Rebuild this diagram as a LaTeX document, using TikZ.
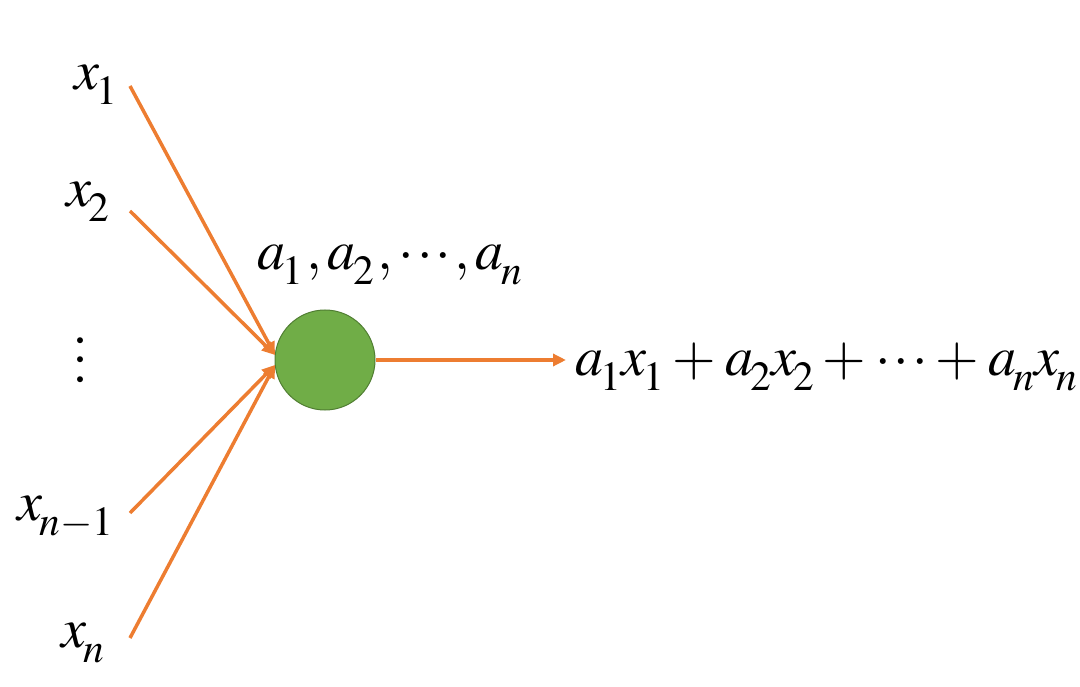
\documentclass[tikz,border=0pt]{standalone}
\usepackage{mathptmx}
\usetikzlibrary{arrows.meta}
\definecolor{edgeor}{HTML}{ED7D31}
\definecolor{cellg}{HTML}{70AD47}
\definecolor{cellb}{HTML}{507E32}
\newcommand{\lsb}[1]{\kern-2.5pt\lower15pt\hbox{$\scriptstyle #1$}}
\newcommand{\bop}{\kern8pt{+}\kern9pt}
\newcommand{\cma}{\kern3pt{,}\kern6pt}
\newcommand{\dotrow}{\mathord{\cdotp}\kern3pt\mathord{\cdotp}\kern3pt\mathord{\cdotp}}
\begin{document}
\begin{tikzpicture}[x=1pt,y=-1pt,
  lbl/.style={inner sep=0pt, anchor=base west, font=\fontsize{56}{60}\selectfont},
  wire/.style={draw=edgeor, line width=3.5pt, -{Triangle[length=13pt,width=12pt]}}]
\useasboundingbox (0,0) rectangle (1080,687);
\node[lbl] (x1) at (74,90) {$x\lsb{1}$};
\node[lbl] (x2) at (66,207) {$x\lsb{2}$};
\node[lbl, anchor=center] (vd) at (82,360) {\rotatebox{90}{$\mathord{\cdotp}\kern4pt\mathord{\cdotp}\kern4pt\mathord{\cdotp}$}};
\node[lbl] (xn1) at (17,520) {$x\lsb{n-1}$};
\node[lbl] (xn) at (61,647) {$x\lsb{n}$};
\node[lbl] (coef) at (257,270) {$a\lsb{1}\cma a\lsb{2}\cma\dotrow\cma a\lsb{n}$};
\node[lbl] (out) at (575,375) {$a\lsb{1}x\lsb{1}\bop a\lsb{2}x\lsb{2}\bop\dotrow\bop a\lsb{n}x\lsb{n}$};
\node[circle, minimum size=100pt, inner sep=0pt, fill=cellg, draw=cellb, line width=1pt] (c) at (325,360) {};
\coordinate (s1) at (130,86);
\coordinate (s2) at (130,211);
\coordinate (s3) at (130,513);
\coordinate (s4) at (130,638);
\coordinate (e1) at (275,355);
\coordinate (e2) at (275,365);
\coordinate (o1) at (566,360);
\draw[wire] (s1) -- (e1);
\draw[wire] (s2) -- (e1);
\draw[wire] (s3) -- (e2);
\draw[wire] (s4) -- (e2);
\draw[wire] (c.east) -- (o1);
\end{tikzpicture}
\end{document}
